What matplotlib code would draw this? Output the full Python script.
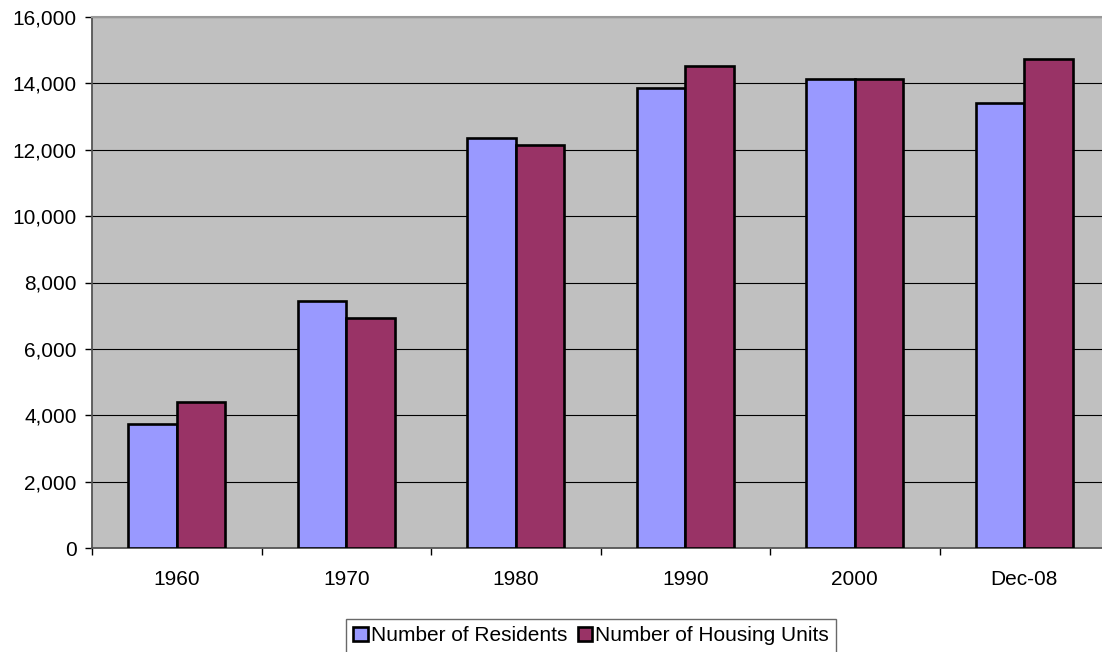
import matplotlib
matplotlib.use("Agg")
import matplotlib.pyplot as plt
import numpy as np
from matplotlib.ticker import FuncFormatter, FixedLocator

plt.rcParams['font.family'] = ['Liberation Sans', 'DejaVu Sans']

categories = ["1960", "1970", "1980", "1990", "2000", "Dec-08"]
residents = [3735, 7440, 12360, 13870, 14120, 13400]
housing_units = [4400, 6930, 12150, 14510, 14120, 14720]
series_labels = ["Number of Residents", "Number of Housing Units"]
y_ticks = [0, 2000, 4000, 6000, 8000, 10000, 12000, 14000, 16000]

fig = plt.figure(figsize=(11.02, 6.52), dpi=100)
ax = fig.add_axes([92 / 1102, 1 - 548 / 652, 1017 / 1102, 531 / 652])
ax.set_facecolor('#C0C0C0')

x = np.arange(len(categories))
w = 1 / 3.5
b1 = ax.bar(x - w / 2, residents, w, color='#9999FF', edgecolor='black',
            linewidth=1.9, zorder=3, label=series_labels[0])
b2 = ax.bar(x + w / 2, housing_units, w, color='#993366', edgecolor='black',
            linewidth=1.9, zorder=3, label=series_labels[1])

ax.set_xlim(-0.5, len(categories) - 0.5)
ax.set_ylim(0, 16000)
ax.set_yticks(y_ticks)
ax.yaxis.set_major_formatter(FuncFormatter(lambda v, p: f"{int(v):,}"))
ax.yaxis.grid(True, color='black', linewidth=0.8, zorder=1)
ax.set_axisbelow(True)

# Category boundaries carry the tick marks, centres carry the labels
ax.xaxis.set_major_locator(FixedLocator(np.arange(-0.5, len(categories) + 0.5, 1)))
ax.xaxis.set_major_formatter(FuncFormatter(lambda v, p: ""))
ax.xaxis.set_minor_locator(FixedLocator(x))
ax.set_xticklabels(categories, minor=True)
ax.tick_params(axis='x', which='major', length=5, width=1, color='black', direction='out')
ax.tick_params(axis='x', which='minor', length=0, pad=15.5, labelsize=15)
ax.tick_params(axis='y', length=5, width=1, color='black', direction='out', pad=6,
               labelsize=15)

for s in ['left', 'bottom']:
    ax.spines[s].set_color('#555555')
    ax.spines[s].set_linewidth(1.3)
ax.spines['top'].set_color('#999999')
ax.spines['top'].set_linewidth(1.5)
ax.spines['right'].set_visible(False)

leg = fig.legend(handles=[b1, b2], labels=series_labels, loc='upper center',
                 bbox_to_anchor=(591 / 1102, 1 - 619 / 652), ncol=2,
                 fontsize=15, frameon=True, fancybox=False, edgecolor='#444444',
                 handlelength=0.7, handleheight=0.7, handletextpad=0.15,
                 columnspacing=0.5, borderpad=0.35, borderaxespad=0)
leg.get_frame().set_linewidth(1.0)
for h in leg.legend_handles:
    h.set_linewidth(1.9)

fig.savefig("out.png", dpi=100)
